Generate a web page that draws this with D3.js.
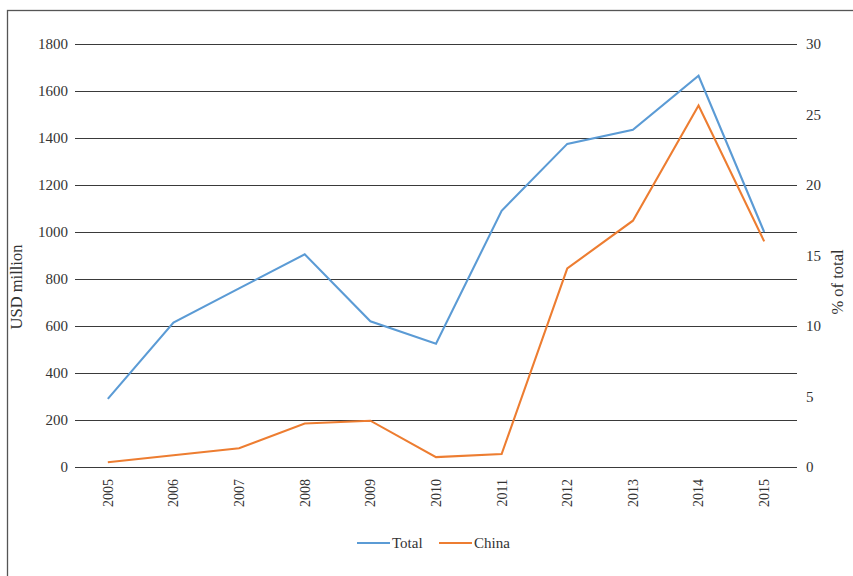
<!DOCTYPE html>
<html>
<head>
<meta charset="utf-8">
<script src="https://cdn.jsdelivr.net/npm/d3@7"></script>
<style>
  html, body { margin: 0; padding: 0; background: #fff; }
  svg { display: block; }
  svg text { font-family: 'Liberation Serif', 'Times New Roman', Times, serif !important; fill: #333; }
</style>
</head>
<body>
<svg id="chart" width="853" height="576"></svg>
<script>
// Investment flows, USD million
const years = ["2005","2006","2007","2008","2009","2010","2011","2012","2013","2014","2015"];
const totalValues = [290, 615, 760, 905, 620, 525, 1090, 1375, 1435, 1665, 1000];
const chinaValues = [20, 50, 80, 185, 197, 42, 55, 845, 1048, 1538, 960];
const leftTicks = [0, 200, 400, 600, 800, 1000, 1200, 1400, 1600, 1800];
const rightTicks = [0, 5, 10, 15, 20, 25, 30];
const seriesNames = ["Total", "China"];
const seriesColors = ["#5B9BD5", "#ED7D31"];

const svg = d3.select("#chart");
const margin = { left: 75, right: 56, top: 44, bottom: 109 };
const W = 853, H = 576;
const plotW = W - margin.left - margin.right;
const plotH = H - margin.top - margin.bottom;

// outer frame
svg.append("rect")
  .attr("x", 7.5).attr("y", 10.5)
  .attr("width", W).attr("height", H)
  .attr("fill", "none").attr("stroke", "#555").attr("stroke-width", 1.3);

const g = svg.append("g").attr("transform", `translate(${margin.left},${margin.top})`);

const x = d3.scaleBand().domain(years).range([0, plotW]);
const y = d3.scaleLinear().domain([0, 1800]).range([plotH, 0]);
const y2 = d3.scaleLinear().domain([0, 30]).range([plotH, 0]);

// horizontal gridlines
g.append("g").selectAll("line").data(leftTicks).join("line")
  .attr("x1", 0).attr("x2", plotW)
  .attr("y1", d => Math.round(y(d)) + 0.5).attr("y2", d => Math.round(y(d)) + 0.5)
  .attr("stroke", "#3a3a3a").attr("stroke-width", 1);

function styleAxis(sel, size) {
  sel.attr("font-family", null).attr("font-size", null);
  sel.select(".domain").remove();
  sel.selectAll("text").style("font-size", size + "px").attr("fill", "#333");
}

// left axis labels
const yAxis = d3.axisLeft(y).tickValues(leftTicks).tickFormat(d3.format("d")).tickSize(0).tickPadding(7);
g.append("g").call(yAxis).call(s => styleAxis(s, 15));

// right axis labels
const yAxis2 = d3.axisRight(y2).tickValues(rightTicks).tickFormat(d3.format("d")).tickSize(0).tickPadding(9);
g.append("g").attr("transform", `translate(${plotW},0)`).call(yAxis2).call(s => styleAxis(s, 15));

// x axis labels, rotated
const xAxis = d3.axisBottom(x).tickSize(0).tickPadding(0);
g.append("g").attr("transform", `translate(0,${plotH})`).call(xAxis)
  .call(s => styleAxis(s, 14))
  .selectAll("text")
  .attr("text-anchor", "end")
  .attr("dy", "0.35em")
  .attr("transform", "translate(0,12) rotate(-90)")
  .attr("x", 0).attr("y", 0);

// axis titles
svg.append("text")
  .attr("transform", "translate(22,287) rotate(-90)")
  .attr("text-anchor", "middle").style("font-size", "16.5px").text("USD million");
svg.append("text")
  .attr("transform", "translate(843,282) rotate(-90)")
  .attr("text-anchor", "middle").style("font-size", "16.5px").text("% of total");

// lines
const line = d3.line()
  .x((d, i) => x(years[i]) + x.bandwidth() / 2)
  .y(d => y(d));
[totalValues, chinaValues].forEach((vals, i) => {
  g.append("path").datum(vals)
    .attr("fill", "none")
    .attr("stroke", seriesColors[i])
    .attr("stroke-width", 2.1)
    .attr("d", line);
});

// legend
const legend = svg.append("g").attr("transform", "translate(357,543)");
const legendX = [0, 82];
seriesNames.forEach((name, i) => {
  const item = legend.append("g").attr("transform", `translate(${legendX[i]},0)`);
  item.append("line").attr("x1", 0).attr("x2", 33).attr("y1", 0).attr("y2", 0)
    .attr("stroke", seriesColors[i]).attr("stroke-width", 2.1);
  item.append("text").attr("x", 35).attr("y", 0).attr("dy", "0.35em")
    .style("font-size", "15px").text(name);
});
</script>
</body>
</html>
